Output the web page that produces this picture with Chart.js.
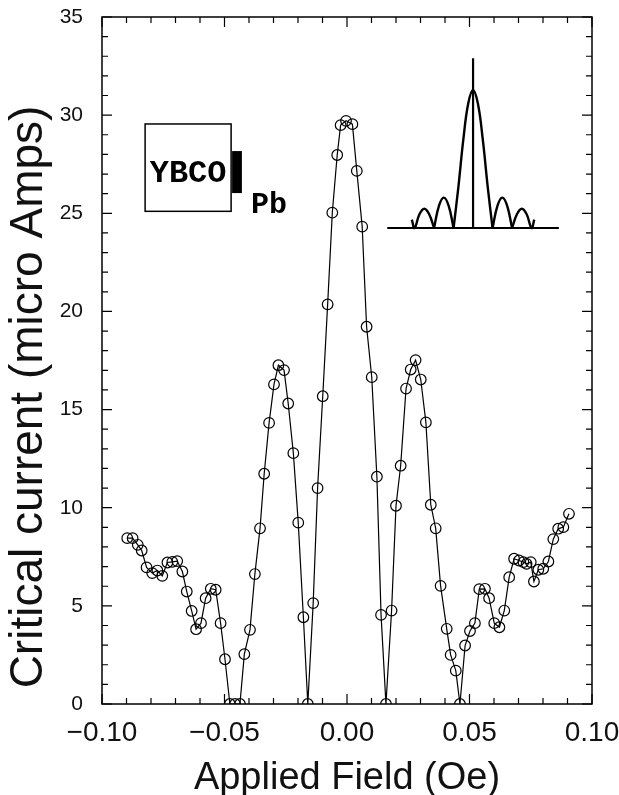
<!DOCTYPE html>
<html>
<head>
<meta charset="utf-8">
<script src="https://cdn.jsdelivr.net/npm/chart.js@4.4.0/dist/chart.umd.min.js"></script>
<style>
  body { margin: 0; background: #fff; }
  #wrap { width: 619px; height: 795px; position: relative; }
</style>
</head>
<body>
<div id="wrap"><canvas id="myChart"></canvas></div>
<script>
// measured field (Oe) and critical current (micro Amps)
const fieldValues = [
  -0.0897, -0.0875, -0.0854, -0.0838, -0.0818, -0.0795, -0.0774, -0.0754, -0.0733, -0.0713,
  -0.0693, -0.0672, -0.0654, -0.0634, -0.0616, -0.0596, -0.0577, -0.0556, -0.0536, -0.0516,
  -0.0498, -0.0478, -0.0457, -0.0437, -0.0419, -0.0396, -0.0376, -0.0355, -0.0338, -0.0318,
  -0.0298, -0.0280, -0.0257, -0.0240, -0.0219, -0.0199, -0.0178, -0.0160, -0.0138, -0.0120,
  -0.0099, -0.0079, -0.0060, -0.0040, -0.0026, -0.0004, 0.0022, 0.0040, 0.0062, 0.0080,
  0.0101, 0.0122, 0.0139, 0.0159, 0.0182, 0.0200, 0.0219, 0.0241, 0.0260, 0.0280,
  0.0301, 0.0322, 0.0342, 0.0362, 0.0382, 0.0407, 0.0423, 0.0444, 0.0461, 0.0482,
  0.0502, 0.0522, 0.0540, 0.0563, 0.0580, 0.0601, 0.0622, 0.0642, 0.0662, 0.0682,
  0.0702, 0.0720, 0.0733, 0.0750, 0.0763, 0.0781, 0.0801, 0.0822, 0.0842, 0.0862,
  0.0883, 0.0906
];
const currentValues = [
  8.45, 8.45, 8.11, 7.82, 6.96, 6.67, 6.80, 6.53, 7.21, 7.24,
  7.28, 6.75, 5.73, 4.74, 3.81, 4.12, 5.39, 5.87, 5.82, 4.12,
  2.28, 0, 0, 0, 2.54, 3.78, 6.62, 8.95, 11.73, 14.32,
  16.28, 17.26, 17.01, 15.31, 12.78, 9.24, 4.42, 0, 5.14, 11.0,
  15.68, 20.36, 25.03, 27.97, 29.49, 29.71, 29.54, 27.16, 24.32, 19.22,
  16.65, 11.58, 4.54, 0, 4.76, 10.10, 12.14, 16.07, 17.04, 17.52,
  16.53, 14.35, 10.15, 8.95, 6.02, 3.83, 2.50, 1.70, 0, 2.98,
  3.72, 4.12, 5.85, 5.87, 5.39, 4.12, 3.91, 4.76, 6.46, 7.40,
  7.31, 7.23, 7.14, 7.23, 6.24, 6.84, 6.89, 7.26, 8.40, 8.93,
  9.01, 9.69
];

// inset sketch of the diffraction pattern (relative units)
const insetLobeX = [
  [-3.14, -3, -2.75, -2.5, -2.25, -2],
  [-2, -1.75, -1.5, -1.25, -1],
  [-1, -0.75, -0.5, -0.25, 0, 0.25, 0.5, 0.75, 1],
  [1, 1.25, 1.5, 1.75, 2],
  [2, 2.25, 2.5, 2.75, 3, 3.14]
];
const insetLobeY = [
  [0.06, 0, 0.10, 0.14, 0.10, 0],
  [0, 0.16, 0.22, 0.16, 0],
  [0, 0.30, 0.64, 0.90, 1, 0.90, 0.64, 0.30, 0],
  [0, 0.16, 0.22, 0.16, 0],
  [0, 0.10, 0.14, 0.10, 0, 0.06]
];
const insetBaseX = [-4.4, 4.4];
const insetBaseY = [0, 0];
const insetStemX = [0, 0];
const insetStemY = [0, 1.23];

const xTickValues = [-0.10, -0.05, 0.00, 0.05, 0.10];
const yTickValues = [0, 5, 10, 15, 20, 25, 30, 35];

const FONT = "'Liberation Sans', Arial, Helvetica, sans-serif";
const MONO = "'Courier New', 'Liberation Mono', monospace";

function toPoints(xs, ys) {
  return xs.map((x, i) => ({ x: x, y: ys[i] }));
}

const datasets = [
  {
    data: toPoints(fieldValues, currentValues),
    showLine: true,
    borderColor: "#000",
    borderWidth: 1.2,
    pointRadius: 5.3,
    pointBorderWidth: 1.2,
    pointBorderColor: "#000",
    pointBackgroundColor: "rgba(0,0,0,0)",
    xAxisID: "x",
    yAxisID: "y",
  },
];
insetLobeX.forEach((xs, k) => {
  datasets.push({
    data: toPoints(xs, insetLobeY[k]),
    showLine: true,
    borderColor: "#000",
    borderWidth: 2.4,
    pointRadius: 0,
    tension: 0.4,
    xAxisID: "ix",
    yAxisID: "iy",
  });
});
[[insetBaseX, insetBaseY, 2], [insetStemX, insetStemY, 2.2]].forEach(([xs, ys, w]) => {
  datasets.push({
    data: toPoints(xs, ys),
    showLine: true,
    borderColor: "#000",
    borderWidth: w,
    pointRadius: 0,
    xAxisID: "ix",
    yAxisID: "iy",
  });
});

const framePlugin = {
  id: "frame",
  afterDraw(chart) {
    const ctx = chart.ctx;
    const a = chart.chartArea;
    const xs = chart.scales.x;
    const ys = chart.scales.y;
    ctx.save();
    ctx.strokeStyle = "#000";
    ctx.lineWidth = 1.5;
    ctx.strokeRect(a.left, a.top, a.right - a.left, a.bottom - a.top);

    // inward ticks on all four sides
    ctx.lineWidth = 1.2;
    ctx.beginPath();
    for (let v = 0; v <= 35; v++) {
      const py = ys.getPixelForValue(v);
      const len = v % 5 === 0 ? 10 : 6;
      ctx.moveTo(a.left, py);
      ctx.lineTo(a.left + len, py);
      ctx.moveTo(a.right, py);
      ctx.lineTo(a.right - len, py);
    }
    for (let i = -10; i <= 10; i++) {
      const px = xs.getPixelForValue(i / 100);
      const len = i % 5 === 0 ? 10 : 6;
      ctx.moveTo(px, a.bottom);
      ctx.lineTo(px, a.bottom - len);
      ctx.moveTo(px, a.top);
      ctx.lineTo(px, a.top + len);
    }
    ctx.stroke();

    // YBCO / Pb junction sketch
    const bx0 = xs.getPixelForValue(-0.0824), bx1 = xs.getPixelForValue(-0.0473);
    const by0 = ys.getPixelForValue(29.55), by1 = ys.getPixelForValue(25.1);
    ctx.lineWidth = 1.5;
    ctx.strokeRect(bx0, by0, bx1 - bx0, by1 - by0);
    const px0 = xs.getPixelForValue(-0.0469), px1 = xs.getPixelForValue(-0.0429);
    const py0 = ys.getPixelForValue(28.17), py1 = ys.getPixelForValue(26.03);
    ctx.fillStyle = "#000";
    ctx.fillRect(px0, py0, px1 - px0, py1 - py0);
    ctx.font = "bold 32px " + MONO;
    ctx.textAlign = "center";
    ctx.textBaseline = "alphabetic";
    ctx.fillText("YBCO", (bx0 + bx1) / 2, ys.getPixelForValue(26.6));
    ctx.textAlign = "left";
    ctx.font = "bold 30px " + MONO;
    ctx.fillText("Pb", xs.getPixelForValue(-0.0392), ys.getPixelForValue(25.0));

    // axis titles
    ctx.fillStyle = "#111";
    ctx.font = "38px " + FONT;
    ctx.textAlign = "center";
    ctx.fillText("Applied Field (Oe)", (a.left + a.right) / 2, 789);
    ctx.translate(42, 397);
    ctx.rotate(-Math.PI / 2);
    ctx.font = "46px " + FONT;
    ctx.fillText("Critical current (micro Amps)", 0, 0);
    ctx.restore();
  },
};

const ctx = document.getElementById("myChart").getContext("2d");
const chart = new Chart(ctx, {
  type: "scatter",
  data: { datasets: datasets },
  options: {
    responsive: true,
    maintainAspectRatio: false,
    animation: false,
    events: [],
    layout: { padding: { left: 0, top: 17, right: 27, bottom: 0 } },
    plugins: { legend: { display: false }, tooltip: { enabled: false } },
    scales: {
      x: {
        type: "linear",
        min: -0.1,
        max: 0.1,
        afterFit: (s) => { s.height = 91; s.paddingLeft = 0; s.paddingRight = 0; },
        afterBuildTicks: (s) => { s.ticks = xTickValues.map((v) => ({ value: v })); },
        grid: { display: false, drawTicks: false },
        border: { display: false },
        ticks: {
          color: "#111",
          padding: 12,
          maxRotation: 0,
          font: { family: FONT, size: 28 },
          callback: (v) => (v < -1e-9 ? "\u2212" : "") + Math.abs(v).toFixed(2),
        },
      },
      y: {
        type: "linear",
        min: 0,
        max: 35,
        afterFit: (s) => { s.width = 102; s.paddingTop = 0; s.paddingBottom = 0; },
        afterBuildTicks: (s) => { s.ticks = yTickValues.map((v) => ({ value: v })); },
        grid: { display: false, drawTicks: false },
        border: { display: false },
        ticks: {
          color: "#111",
          padding: 19,
          font: { family: FONT, size: 21 },
        },
      },
      ix: { type: "linear", display: false, min: -19.03, max: 6.10 },
      iy: { type: "linear", display: false, min: -3.449, max: 1.529 },
    },
  },
  plugins: [framePlugin],
});
</script>
</body>
</html>
